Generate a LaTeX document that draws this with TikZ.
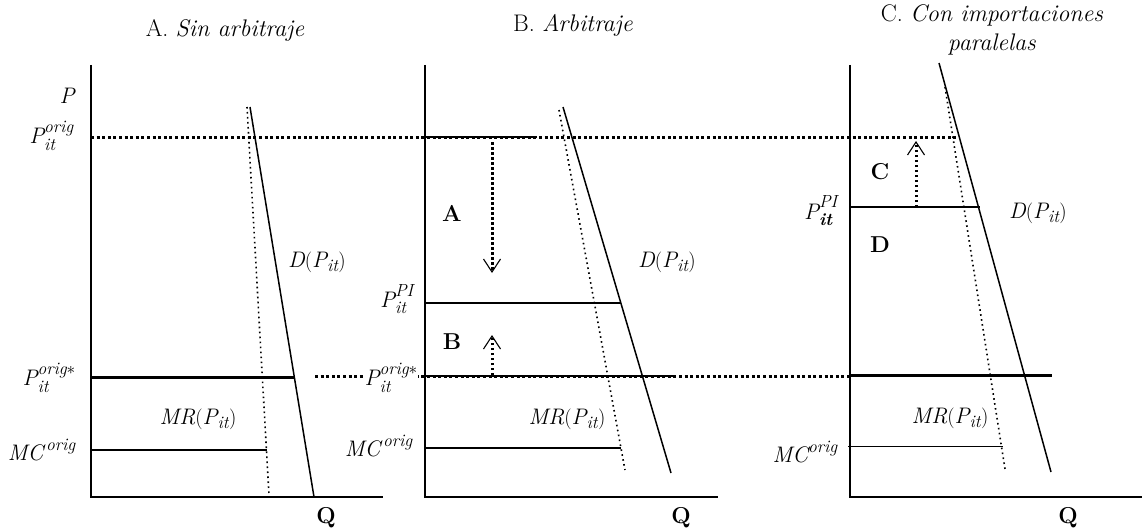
\documentclass[tikz,border=0pt]{standalone}
\usepackage{amsmath}
\usepackage{fontspec}
\DeclareMathSizes{22.5}{22.5}{17.5}{13}
\newcommand\V[1]{\textit{#1}}
\newcommand\Up[1]{\raisebox{3pt}{\fontsize{17.5}{18}\selectfont\itshape #1}}
\usetikzlibrary{arrows.meta}
\begin{document}
\begin{tikzpicture}[x=1pt,y=-1pt,
  lbl/.style={inner sep=0pt, font=\fontsize{22.5}{26}\selectfont},
  ttl/.style={inner sep=0pt, font=\fontsize{24}{28}\selectfont},
  bl/.style={inner sep=0pt, font=\fontsize{23}{27}\selectfont\bfseries},
  axis/.style={line width=2pt},
  curve/.style={line width=1.5pt},
  mrc/.style={line width=1.6pt, dash pattern=on 1.6pt off 3.4pt},
  hdot/.style={line width=3pt, dash pattern=on 3pt off 2.6pt},
  level/.style={line width=1.8pt},
  strong/.style={line width=3pt},
  arr/.style={line width=3pt, dash pattern=on 2.5pt off 2.5pt, -{Straight Barb[length=13pt,width=17pt,line width=1.1pt]}}]
\useasboundingbox (0,0) rectangle (1142,532);

% ---------- Panel A ----------
\node[ttl] (tA) at (225,30) {A. \textit{Sin arbitraje}};
\coordinate (Atop) at (91,65); \coordinate (Ao) at (91,497); \coordinate (Ax) at (383,497);
\draw[axis] (Atop) -- (Ao) -- (Ax);
\coordinate (AD1) at (250,107); \coordinate (AD2) at (314,497);
\coordinate (AM1) at (247,107); \coordinate (AM2) at (269,495);
\draw[curve] (AD1) -- (AD2);
\draw[mrc] (AM1) -- (AM2);
\coordinate (top0) at (91,137); \coordinate (top1) at (957,137);
\draw[hdot] (top0) -- (top1);
\coordinate (Ao1) at (91,377); \coordinate (Ao2) at (294,377);
\draw[strong] (Ao1) -- (Ao2);
\coordinate (Amc1) at (91,450); \coordinate (Amc2) at (267,450);
\draw[level] (Amc1) -- (Amc2);
\node[lbl,anchor=east] (AP) at (76,96) {\V{P}};
\node[lbl,anchor=east] (APo) at (74,136) {$\V{P}_{\V{it}}^{\V{orig}}$};
\node[lbl,anchor=east] (APs) at (76,378) {$\V{P}_{\V{it}}^{\V{orig}*}$};
\node[lbl,anchor=east] (AMC) at (76,450) {$\V{MC}^{\,\V{orig}}$};
\node[lbl] (AMR) at (198,419) {$\V{MR}(\V{P}_{\V{it}})$};
\node[lbl] (AD) at (317,262) {$\V{D}(\V{P}_{\V{it}})$};
\node[bl] (AQ) at (326,518) {Q};

% ---------- Panel B ----------
\node[ttl] (tB) at (573,25) {B. \textit{Arbitraje}};
\coordinate (Btop) at (425,65); \coordinate (Bo) at (425,497); \coordinate (Bx) at (718,497);
\draw[axis] (Btop) -- (Bo) -- (Bx);
\coordinate (Bt1) at (425,137); \coordinate (Bt2) at (537,137);
\draw[level] (Bt1) -- (Bt2);
\coordinate (BD1) at (563,107); \coordinate (BD2) at (671,473);
\coordinate (BM1) at (559,110); \coordinate (BM2) at (625,470);
\draw[curve] (BD1) -- (BD2);
\draw[mrc] (BM1) -- (BM2);
\coordinate (BPI1) at (425,303); \coordinate (BPI2) at (621,303);
\draw[level] (BPI1) -- (BPI2);
\coordinate (so0) at (315,376); \coordinate (so1) at (850,376);
\draw[hdot] (so0) -- (so1);
\coordinate (Bs1) at (425,376); \coordinate (Bs2) at (674,376);
\draw[level] (Bs1) -- (Bs2);
\coordinate (Bmc1) at (425,448); \coordinate (Bmc2) at (621,448);
\draw[level] (Bmc1) -- (Bmc2);
\coordinate (Ba1) at (492,142); \coordinate (Ba2) at (492,273);
\draw[arr] (Ba1) -- (Ba2);
\coordinate (Bb1) at (492,375); \coordinate (Bb2) at (492,335);
\draw[arr] (Bb1) -- (Bb2);
\node[lbl,anchor=east] (BPI) at (414,299) {$\V{P}_{\V{it}}^{\Up{PI}}$};
\node[lbl,anchor=east,fill=white,inner ysep=2pt] (BPs) at (418,378) {$\V{P}_{\V{it}}^{\V{orig}*}$};
\node[lbl,anchor=east] (BMC) at (413,446) {$\V{MC}^{\,\V{orig}}$};
\node[bl] (BA) at (452,213) {A};
\node[bl] (BB) at (452,342) {B};
\node[lbl] (BMR) at (567,419) {$\V{MR}(\V{P}_{\V{it}})$};
\node[lbl] (BD) at (667,262) {$\V{D}(\V{P}_{\V{it}})$};
\node[bl] (BQ) at (681,518) {Q};

% ---------- Panel C ----------
\node[ttl] (tC1) at (992,15) {C. \textit{Con importaciones}};
\node[ttl] (tC2) at (992,45) {\textit{paralelas}};
\coordinate (Ctop) at (850,65); \coordinate (Co) at (850,497); \coordinate (Cx) at (1142,497);
\draw[axis] (Ctop) -- (Co) -- (Cx);
\coordinate (CD1) at (939,63); \coordinate (CD2) at (1051,472);
\coordinate (CM1) at (945,87); \coordinate (CM2) at (1005,469);
\draw[curve] (CD1) -- (CD2);
\draw[mrc] (CM1) -- (CM2);
\coordinate (CPI1) at (850,207); \coordinate (CPI2) at (980,207);
\draw[level] (CPI1) -- (CPI2);
\coordinate (Ca1) at (916,207); \coordinate (Ca2) at (916,141);
\draw[arr] (Ca1) -- (Ca2);
\coordinate (Cs1) at (850,375); \coordinate (Cs2) at (1052,375);
\draw[strong] (Cs1) -- (Cs2);
\coordinate (Cmc1) at (848,446); \coordinate (Cmc2) at (1003,446);
\draw[line width=1pt] (Cmc1) -- (Cmc2);
\node[lbl,anchor=east] (CPI) at (838,211) {$\V{P}_{\textbf{\textit{it}}}^{\Up{PI}}$};
\node[bl] (CC) at (880,172) {C};
\node[bl] (CDl) at (880,245) {D};
\node[lbl] (CD) at (1038,213) {$\V{D}(\V{P}_{\V{it}})$};
\node[lbl] (CMR) at (950,418) {$\V{MR}(\V{P}_{\V{it}})$};
\node[lbl,anchor=east] (CMC) at (838,452) {$\V{MC}^{\V{orig}}$};
\node[bl] (CQ) at (1068,518) {Q};
\end{tikzpicture}
\end{document}
